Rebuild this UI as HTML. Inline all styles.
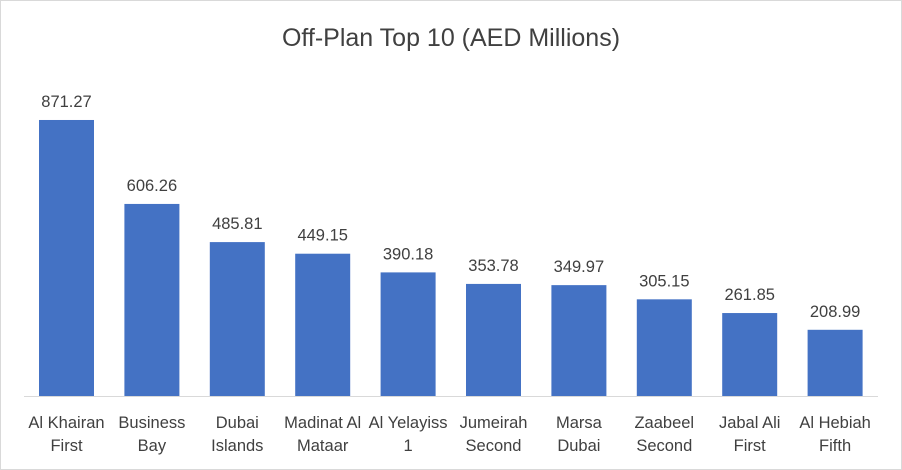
<!DOCTYPE html>
<html><head><meta charset="utf-8"><style>
body{margin:0;background:#fff}
svg{display:block}
text{font-family:"Liberation Sans",sans-serif;fill:#404040}
</style></head><body>
<svg width="902" height="470" viewBox="0 0 902 470">
<rect x="0.5" y="0.5" width="901" height="469" fill="#fff" stroke="#d9d9d9"/>
<text x="451" y="46" font-size="25" text-anchor="middle" fill="#595959">Off-Plan Top 10 (AED Millions)</text>
<line x1="24" y1="396.5" x2="878" y2="396.5" stroke="#d9d9d9"/>
<g fill="#4472c4" id="bars"></g>
<g font-size="16.5" text-anchor="middle" id="lab"></g>
</svg>
<script>
var d=[["871.27",871.27,"Al Khairan","First"],["606.26",606.26,"Business","Bay"],["485.81",485.81,"Dubai","Islands"],["449.15",449.15,"Madinat Al","Mataar"],["390.18",390.18,"Al Yelayiss","1"],["353.78",353.78,"Jumeirah","Second"],["349.97",349.97,"Marsa","Dubai"],["305.15",305.15,"Zaabeel","Second"],["261.85",261.85,"Jabal Ali","First"],["208.99",208.99,"Al Hebiah","Fifth"]];
var ns="http://www.w3.org/2000/svg",b=document.getElementById("bars"),l=document.getElementById("lab");
function t(x,y,s){var e=document.createElementNS(ns,"text");e.setAttribute("x",x);e.setAttribute("y",y);e.textContent=s;l.appendChild(e);}
d.forEach(function(v,i){var cx=66.5+i*85.4,h=v[1]*0.3168,y=396-h;
var r=document.createElementNS(ns,"rect");r.setAttribute("x",cx-27.5);r.setAttribute("y",y);r.setAttribute("width",55);r.setAttribute("height",h);b.appendChild(r);
t(cx,y-13,v[0]);t(cx,428,v[2]);t(cx,451,v[3]);});
</script>
</body></html>
